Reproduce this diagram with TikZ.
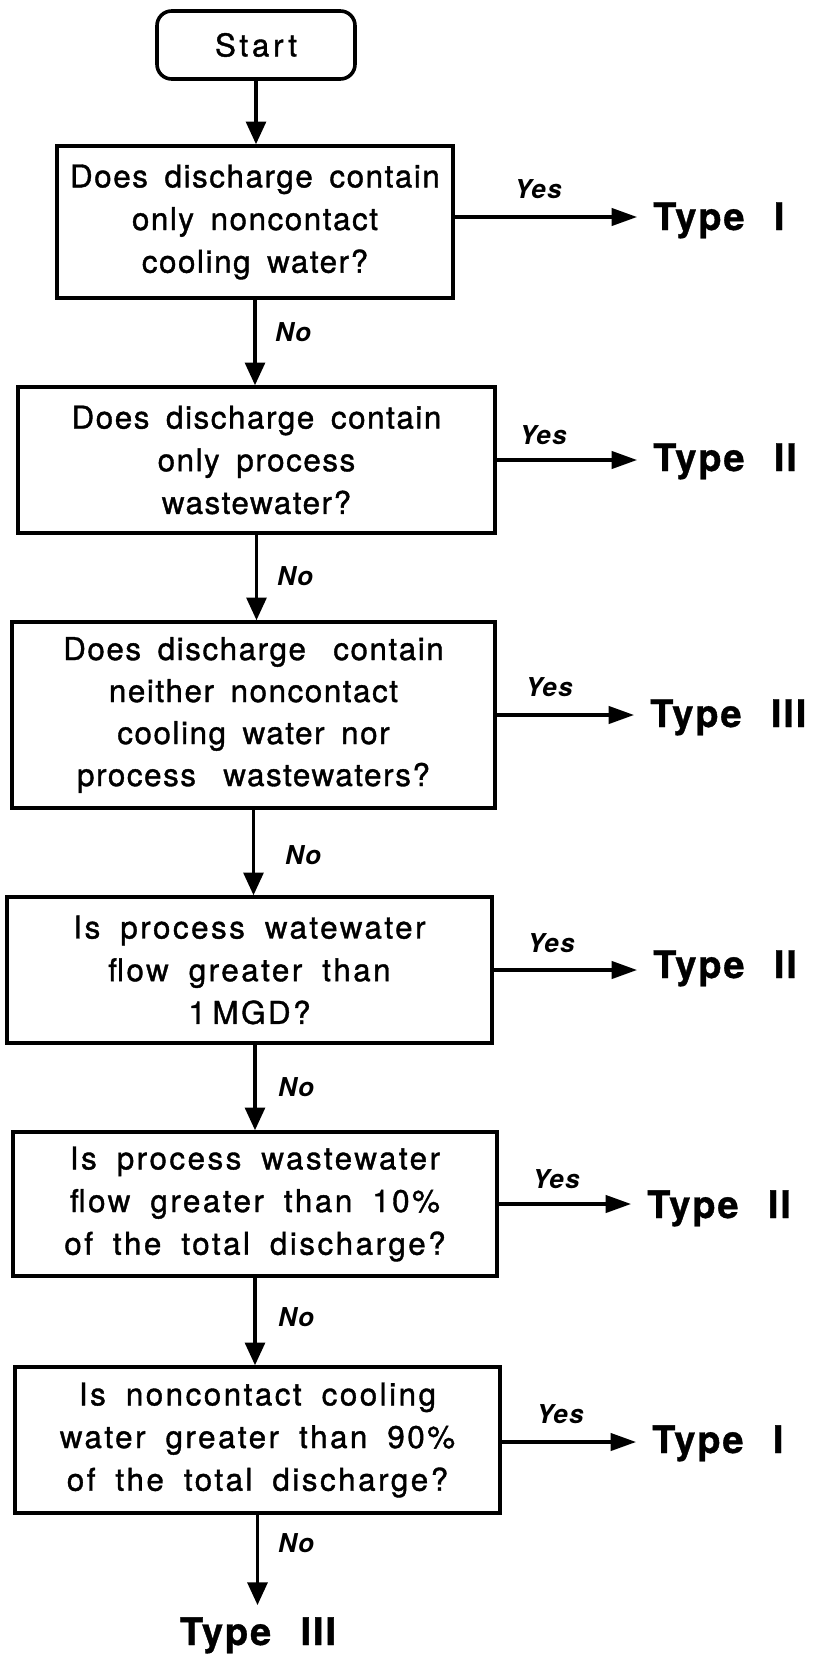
\documentclass[tikz,border=0pt]{standalone}
\usepackage{fontspec}
\setmainfont{TeX Gyre Heros}[LetterSpace=5]
\usetikzlibrary{arrows.meta}
\newcommand\boxfont{\fontsize{23.5}{32}\selectfont\addfontfeatures{FakeBold=1.2}\spaceskip=12.5pt\relax}
\newcommand\boxfontb{\fontsize{23.5}{31.5}\selectfont\addfontfeatures{FakeBold=1.2}\spaceskip=12.5pt\relax}
\newcommand\boxfontc{\fontsize{23.5}{32}\selectfont\addfontfeatures{FakeBold=1.2,LetterSpace=8}\spaceskip=15pt\relax}
\newcommand\typefont{\fontsize{28.5}{32}\selectfont\bfseries\addfontfeatures{FakeBold=1}}
\newcommand\ynfont{\fontsize{19.5}{22}\selectfont\bfseries\itshape}
\newcommand\startfont{\fontsize{23.5}{28}\selectfont\addfontfeatures{LetterSpace=12,FakeBold=1.2}}
\newcommand\gap{\hspace{22pt}}
\begin{document}
\begin{tikzpicture}[x=0.75pt,y=-0.75pt,
  qbox/.style={draw, line width=2.7pt, inner sep=0pt, align=center, font=\boxfont},
  startbox/.style={draw, line width=2.7pt, rounded corners=11pt, inner sep=0pt, font=\startfont,
    minimum width=148.5pt, minimum height=51pt},
  varr/.style={line width=2.3pt, -{Triangle[length=17pt,width=15pt]}},
  harr/.style={line width=2.3pt, -{Triangle[length=19pt,width=13pt]}, shorten >=12pt},
  typelab/.style={font=\typefont, inner sep=0pt},
  yeslab/.style={font=\ynfont, inner sep=0pt},
  nolab/.style={font=\ynfont, inner sep=0pt}]
\useasboundingbox (0,0) rectangle (817,1659);

\node[startbox] (start) at (256,45) {Start};

\node[qbox, minimum width=297pt, minimum height=114pt] (b1) at (255,222)
  {Does discharge contain\\only noncontact\\cooling water?};
\node[qbox, minimum width=357.75pt, minimum height=109.5pt] (b2) at (256.5,460)
  {Does discharge contain\\only process\\wastewater?};
\node[qbox, minimum width=362.25pt, minimum height=139.5pt, font=\boxfontb] (b3) at (253.5,715)
  {Does discharge\hspace{8pt} contain\\neither noncontact\\cooling water nor\\process\hspace{8pt} wastewaters?};
\node[qbox, minimum width=363.75pt, minimum height=109.5pt, font=\boxfontc] (b4) at (249.5,970)
  {Is process watewater\\flow greater than\\1\hspace{5pt}MGD?};
\node[qbox, minimum width=363pt, minimum height=108pt, font=\boxfontc] (b5) at (255,1204)
  {Is process wastewater\\flow greater than 10\%\\of the total discharge?};
\node[qbox, minimum width=363.75pt, minimum height=109.5pt, font=\boxfontc] (b6) at (257.5,1440)
  {Is noncontact cooling\\water greater than 90\%\\of the total discharge?};

% outcomes
\node[typelab, anchor=base west] (t1) at (653,230) {Type\gap I};
\node[typelab, anchor=base west] (t2) at (653,471) {Type\gap II};
\node[typelab, anchor=base west] (t3) at (650,727) {Type\gap III};
\node[typelab, anchor=base west] (t4) at (653,978) {Type\gap II};
\node[typelab, anchor=base west] (t5) at (647,1218) {Type\gap II};
\node[typelab, anchor=base west] (t6) at (652,1453) {Type\gap I};
\node[typelab, anchor=base] (t7) at (258,1645) {Type\gap III};

% vertical connectors
\draw[varr] (start.south) -- (start.south |- b1.north);
\draw[varr] (b1.south) -- (b1.south |- b2.north);
\draw[varr] (b2.south) -- (b2.south |- b3.north);
\draw[varr] (b3.south) -- (b3.south |- b4.north);
\draw[varr] (b4.south -| b5.north) -- (b5.north);
\draw[varr] (b5.south) -- (b5.south |- b6.north);
\draw[varr, shorten >=9pt] (b6.south) -- (b6.south |- t7.north);

% horizontal connectors
\draw[harr] ([yshift=3.75pt]b1.east) -- ([yshift=3.75pt]b1.east -| t1.west);
\draw[harr] (b2.east) -- (b2.east -| t2.west);
\draw[harr] (b3.east) -- (b3.east -| t3.west);
\draw[harr] (b4.east) -- (b4.east -| t4.west);
\draw[harr] (b5.east) -- (b5.east -| t5.west);
\draw[harr] ([yshift=-1.5pt]b6.east) -- ([yshift=-1.5pt]b6.east -| t6.west);

% labels
\node[yeslab] (y1) at (538,189) {Yes};
\node[yeslab] (y2) at (543,435) {Yes};
\node[yeslab] (y3) at (549,687) {Yes};
\node[yeslab] (y4) at (551,943) {Yes};
\node[yeslab] (y5) at (556,1179) {Yes};
\node[yeslab] (y6) at (560,1414) {Yes};

\node[nolab] (n1) at (293,332) {No};
\node[nolab] (n2) at (295,576) {No};
\node[nolab] (n3) at (303,855) {No};
\node[nolab] (n4) at (296,1087) {No};
\node[nolab] (n5) at (296,1317) {No};
\node[nolab] (n6) at (296,1543) {No};
\end{tikzpicture}
\end{document}
